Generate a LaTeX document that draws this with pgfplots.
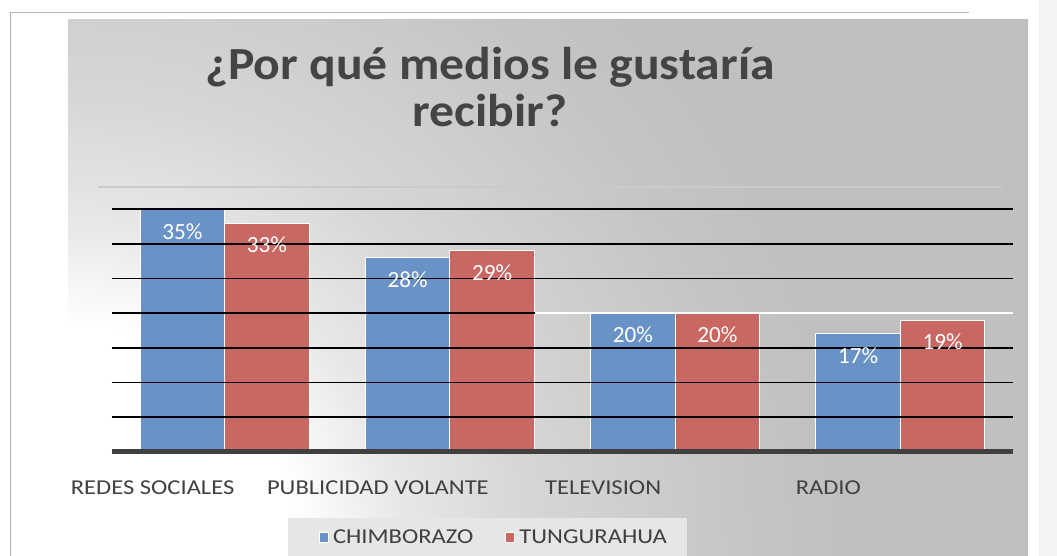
\documentclass[border=0pt]{standalone}
\usepackage{fontspec}
\setmainfont{Carlito}
\newfontfamily\titlefont[FakeStretch=1.08]{Carlito}
\newfontfamily\labfont[FakeStretch=1.16]{Carlito}
\usepackage{pgfplots}
\pgfplotsset{compat=1.18}

\definecolor{cBlue}{HTML}{6993C6}
\definecolor{cRed}{HTML}{C96863}
\definecolor{cBG}{HTML}{C0C0C0}
\definecolor{cText}{HTML}{404040}
\definecolor{cTitle}{HTML}{444444}
\definecolor{cLeg}{HTML}{E6E6E6}
\definecolor{cStrip}{HTML}{F3F3F3}
\definecolor{cLine}{HTML}{CACACA}

% light patch in the lower left corner of the chart area
\pgfdeclareradialshading{bgshade}{\pgfpoint{0bp}{0bp}}{color(0bp)=(white); color(4.8bp)=(white); color(6.9bp)=(white!91!black); color(9.6bp)=(white!84!black); color(14.3bp)=(white!77!black); color(16.2bp)=(cBG); color(50bp)=(cBG)}

\begin{document}
\begin{tikzpicture}
\useasboundingbox (0,0) rectangle (528.5pt,278pt);
\fill[white] (0,0) rectangle (528.5pt,278pt);
\fill[cStrip] (519.5pt,0) rectangle (528.5pt,278pt);
\draw[gray!60, line width=0.5pt] (5pt,0) -- (5pt,271.6pt) -- (484.5pt,271.6pt);

\begin{scope}
  \clip (34pt,0) rectangle (514pt,268pt);
  \fill[cBG] (34pt,0) rectangle (514pt,268pt);
  \shade[shading=bgshade] (34pt,0) circle (600pt);
\end{scope}

\draw[cLine, line width=1pt] (49pt,184.5pt) -- (501pt,184.5pt);
\fill[cLeg] (144pt,0) rectangle (343.5pt,19pt);

\node[anchor=base, text=cTitle, font=\titlefont\fontsize{23}{24}\selectfont\bfseries] at (245pt,238pt) {¿Por qué medios le gustaría};
\node[anchor=base, text=cTitle, font=\titlefont\fontsize{23}{24}\selectfont\bfseries] at (245pt,214.5pt) {recibir?};

\begin{axis}[
    at={(56pt,52.15pt)}, anchor=south west,
    scale only axis, width=450.5pt, height=121.2pt,
    xmin=-0.5, xmax=3.5, ymin=0, ymax=35,
    enlargelimits=false,
    ybar=0pt, bar width=0.375,
    axis on top,
    axis x line*=bottom, axis y line*=left,
    x axis line style={draw=cText, line width=2.2pt, -},
    y axis line style={draw=none},
    ytick={5,10,...,35}, yticklabels={},
    ymajorgrids, grid style={black, line width=0.8pt},
    major tick length=0pt,
    xtick={0,1,2,3},
    xticklabels={REDES SOCIALES, PUBLICIDAD VOLANTE, TELEVISION, RADIO},
    x tick label style={anchor=center, xshift=-36pt, yshift=-18.15pt,
        font=\labfont\fontsize{10.6}{12}\selectfont, text=cText},
    /pgf/number format/assume math mode=true,
    nodes near coords={\pgfmathprintnumber{\pgfplotspointmeta}\%},
    every node near coord/.append style={anchor=center, yshift=-11pt,
        text=white, font=\fontsize{11.6}{14}\selectfont},
    legend style={at={(0.425,-0.356)}, anchor=center, legend columns=2,
        draw=none, fill=none, font=\labfont\fontsize{10.6}{12}\selectfont, text=cText,
        /tikz/every even column/.append style={column sep=14pt}},
    legend image code/.code={\fill[#1] (0pt,-2.5pt) rectangle (4.5pt,2.5pt);},
  ]
  \addplot[fill=cBlue, draw=white, line width=0.5pt] coordinates {(0,35) (1,28) (2,20) (3,17)};
  \addplot[fill=cRed, draw=white, line width=0.5pt] coordinates {(0,33) (1,29) (2,20) (3,19)};
  \legend{CHIMBORAZO, TUNGURAHUA}
\end{axis}

% the 20% line turns white to the right of the second group
\draw[white, line width=1pt] (267.5pt,121.4pt) -- (506.5pt,121.4pt);
\end{tikzpicture}
\end{document}
